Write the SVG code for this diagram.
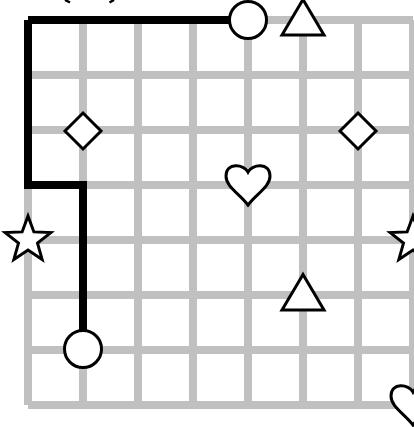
<svg xmlns="http://www.w3.org/2000/svg" width="414" height="427" viewBox="0 0 414 427">
<defs>
<style>
.grid{stroke:#c0c0c0;stroke-width:8;stroke-linecap:butt;fill:none}
.path{stroke:#000;stroke-width:8;stroke-linecap:butt;stroke-linejoin:miter;fill:none}
.sym{fill:#fff;stroke:#000;stroke-width:3;stroke-linejoin:miter}
</style>
<path id="heart" d="M0,-13 C-4,-21 -22,-23 -22,-9 C-22,2 -8,9 0,20 C8,9 22,2 22,-9 C22,-23 4,-21 0,-13 Z"/>
<polygon id="star" points="0,-24 5.88,-8.09 22.83,-7.42 9.51,3.09 14.11,19.42 0,10 -14.11,19.42 -9.51,3.09 -22.83,-7.42 -5.88,-8.09"/>
<polygon id="tri" points="0,-20.5 -21,15 21,15"/>
<polygon id="dia" points="0,-18 18,0 0,18 -18,0"/>
</defs>
<rect width="414" height="427" fill="#fff"/>
<g id="grid" class="grid">
<line x1="28" y1="20" x2="28" y2="405"/>
<line x1="83" y1="20" x2="83" y2="405"/>
<line x1="138" y1="20" x2="138" y2="405"/>
<line x1="193" y1="20" x2="193" y2="405"/>
<line x1="248" y1="20" x2="248" y2="405"/>
<line x1="303" y1="20" x2="303" y2="405"/>
<line x1="358" y1="20" x2="358" y2="405"/>
<line x1="413" y1="20" x2="413" y2="405"/>
<line x1="28" y1="20" x2="413" y2="20"/>
<line x1="28" y1="75" x2="413" y2="75"/>
<line x1="28" y1="130" x2="413" y2="130"/>
<line x1="28" y1="185" x2="413" y2="185"/>
<line x1="28" y1="240" x2="413" y2="240"/>
<line x1="28" y1="295" x2="413" y2="295"/>
<line x1="28" y1="350" x2="413" y2="350"/>
<line x1="28" y1="405" x2="413" y2="405"/>
</g>
<g id="connectors">
<line class="path" x1="248" y1="20" x2="28" y2="20"/>
<polyline class="path" points="28,20 28,185 83,185 83,350"/>
</g>
<g id="marks" stroke="#000" stroke-width="2.5" fill="none">
<line x1="65" y1="0" x2="70" y2="2.5"/>
<line x1="114" y1="0" x2="109.5" y2="2.5"/>
</g>
<g id="start-circle"><circle class="sym" cx="248" cy="20" r="18.5"/></g>
<g id="end-circle"><circle class="sym" cx="83" cy="349" r="18.5"/></g>
<g id="triangle-top"><use href="#tri" class="sym" x="303" y="20"/></g>
<g id="triangle-mid"><use href="#tri" class="sym" x="303" y="295"/></g>
<g id="diamond-left"><use href="#dia" class="sym" x="83" y="131"/></g>
<g id="diamond-right"><use href="#dia" class="sym" x="358" y="131"/></g>
<g id="heart-center"><use href="#heart" class="sym" x="248" y="185"/></g>
<g id="heart-corner"><use href="#heart" class="sym" x="413" y="405"/></g>
<g id="star-left"><use href="#star" class="sym" x="28" y="240"/></g>
<g id="star-right"><use href="#star" class="sym" x="413" y="240"/></g>
</svg>
